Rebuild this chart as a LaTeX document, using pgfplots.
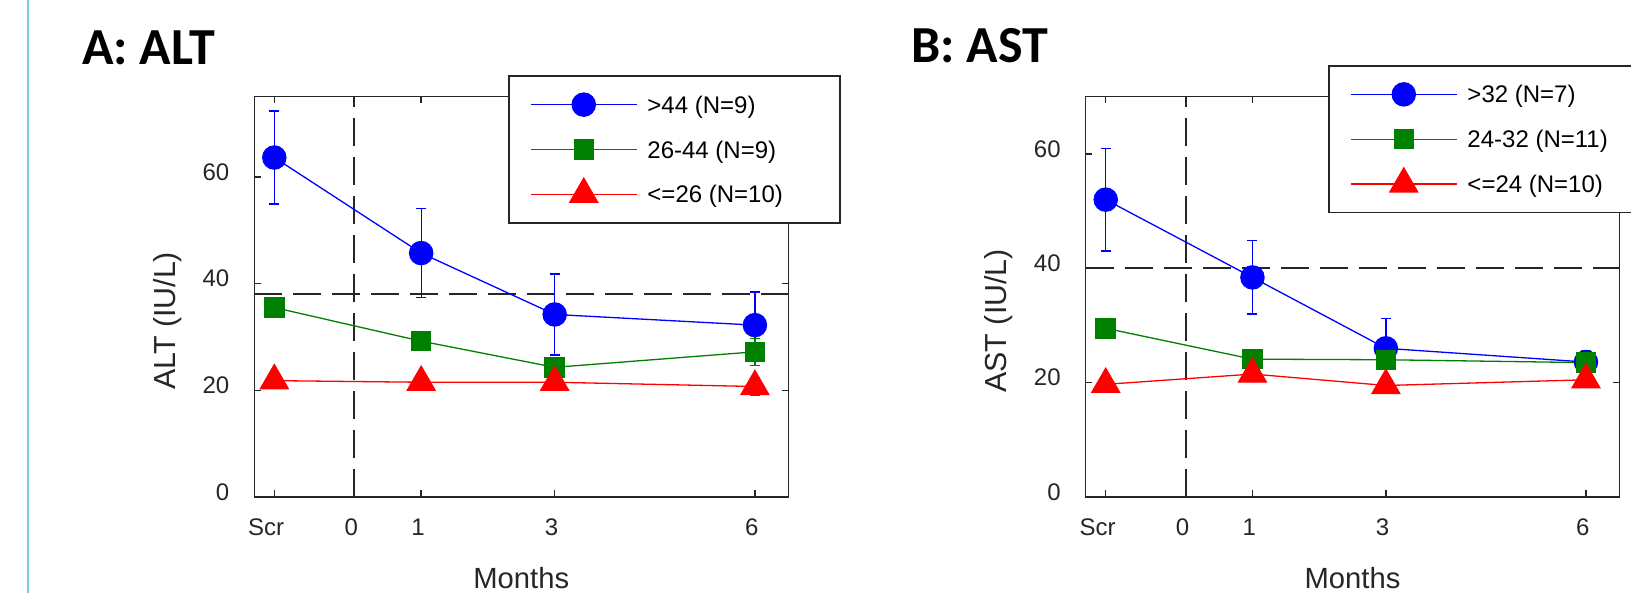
\documentclass[border=0pt]{standalone}
\usepackage{fontspec}
\setmainfont{Liberation Sans}
\newfontfamily\titlefont{Carlito}
\usepackage{pgfplots}
\pgfplotsset{compat=1.18}
\usepackage{pgfplotstable}

\definecolor{axgray}{RGB}{38,38,38}
\definecolor{mblue}{RGB}{0,0,255}
\definecolor{mgreen}{RGB}{0,128,0}
\definecolor{mred}{RGB}{255,0,0}
\definecolor{sideblue}{RGB}{125,200,240}

% ALT groups: month (Scr plotted at -1.2), mean, error
\pgfplotstableread{
x y e
-1.2 63.6 8.7
1 45.7 8.3
3 34.2 7.6
6 32.2 6.2
}\altHigh
\pgfplotstableread{
x y e
-1.2 35.5 1.0
1 29.2 1.2
3 24.3 1.6
6 27.2 2.5
}\altMid
\pgfplotstableread{
x y e
-1.2 21.8 0.8
1 21.5 0.8
3 21.5 0.9
6 20.7 1.6
}\altLow
% AST groups
\pgfplotstableread{
x y e
-1.2 52.0 9.0
1 38.4 6.4
3 26.0 5.2
6 23.6 1.5
}\astHigh
\pgfplotstableread{
x y e
-1.2 29.5 1.0
1 24.1 1.1
3 24.0 1.2
6 23.5 2.1
}\astMid
\pgfplotstableread{
x y e
-1.2 19.7 0.8
1 21.5 1.0
3 19.5 0.9
6 20.5 0.9
}\astLow

\pgfplotsset{
  panel/.style={
    scale only axis, width=267pt, height=200.15pt,
    xmin=-1.5, xmax=6.5, ymin=0,
    xtick={-1.2,0,1,3,6},
    xticklabels={\kern-5pt Scr,0,1,3,6},
    ytick={0,20,40,60},
    axis line style={axgray, line width=0.75pt},
    major tick style={axgray, line width=0.75pt},
    major tick length=3.3pt,
    tick label style={font=\fontsize{12}{14}\selectfont, text=axgray},
    /pgf/number format/assume math mode=true,
    xticklabel style={text height=8.6pt, text depth=0pt, yshift=-7.25pt, xshift=-1.6pt},
    yticklabel style={xshift=-9pt, yshift=2.5pt},
    xlabel={Months},
    xlabel style={at={(axis description cs:0.5,-0.228)}, anchor=base,
      font=\fontsize{14.6}{17}\selectfont, text=axgray},
    ylabel style={at={(axis description cs:-0.148,0.44)}, anchor=base,
      font=\fontsize{15.2}{18}\selectfont, text=axgray},
    legend style={anchor=north west, draw=axgray, line width=0.75pt, fill=white,
      font=\fontsize{12}{14}\selectfont, inner xsep=0pt, inner ysep=8.7pt,
      row sep=11.2pt, cells={anchor=west},
      nodes={inner sep=0pt, text height=8.6pt, text depth=0pt}},
    legend image code/.code={
      \draw[overlay, mark repeat=2, mark phase=2]
        plot coordinates {(0pt,0pt) (26.5pt,0pt) (53pt,0pt)};
      \path[draw=none, fill=none] (-10.85pt,-5.6pt) rectangle (58.35pt,5.6pt);
    },
  },
  ser/.style={#1, line width=0.65pt,
    error bars/y dir=both, error bars/y explicit,
    error bars/error bar style={line width=0.65pt, #1},
    error bars/error mark options={rotate=90, mark size=2.5pt, line width=0.65pt, #1}},
  refline/.style={forget plot, axgray, line width=1pt, dash pattern=on 14pt off 5.5pt},
}

\begin{document}
\begin{tikzpicture}
\path[use as bounding box] (0,0) rectangle (815.5pt,296.5pt);
\draw[sideblue, line width=1pt] (14.15pt,-1pt) -- (14.15pt,297.5pt);
\node[anchor=base west, inner sep=0pt, font=\titlefont\bfseries\fontsize{26}{30}\selectfont]
  at (40.85pt,264pt) {A: ALT};
\node[anchor=base west, inner sep=0pt, font=\titlefont\bfseries\fontsize{26}{30}\selectfont]
  at (455.6pt,265pt) {B: AST};

\begin{axis}[panel, at={(127.15pt,48pt)}, anchor=south west,
  ymax=75, ylabel={ALT (IU/L)},
  legend style={at={(axis description cs:0.4757,1.0535)}}]
\addplot[refline] coordinates {(0,0) (0,75)};
\addplot[refline] coordinates {(-1.5,38) (6.5,38)};
\addplot[ser=mblue, mark=*, mark size=5.8pt, mark options={solid, fill=mblue}]
  table[x=x, y=y, y error=e] {\altHigh};
\addlegendentry{\makebox[96.15pt][l]{>44 (N=9)}}
\addplot[ser=mgreen, mark=square*, mark size=4.8pt, mark options={solid, fill=mgreen}]
  table[x=x, y=y, y error=e] {\altMid};
\addlegendentry{\makebox[96.15pt][l]{26-44 (N=9)}}
\addplot[ser=mred, mark=triangle*, mark size=8pt, mark options={solid, fill=mred}]
  table[x=x, y=y, y error=e] {\altLow};
\addlegendentry{\makebox[96.15pt][l]{<=26 (N=10)}}
\end{axis}

\begin{axis}[panel, at={(542.85pt,48pt)}, anchor=south west, width=266.8pt,
  ymax=70, ylabel={AST (IU/L)},
  legend style={at={(axis description cs:0.4547,1.0792)}}]
\addplot[refline] coordinates {(0,0) (0,70)};
\addplot[refline] coordinates {(-1.5,40) (6.5,40)};
\addplot[ser=mblue, mark=*, mark size=5.8pt, mark options={solid, fill=mblue}]
  table[x=x, y=y, y error=e] {\astHigh};
\addlegendentry{\makebox[96.15pt][l]{>32 (N=7)}}
\addplot[ser=mgreen, mark=square*, mark size=4.8pt, mark options={solid, fill=mgreen}]
  table[x=x, y=y, y error=e] {\astMid};
\addlegendentry{\makebox[96.15pt][l]{24-32 (N=11)}}
\addplot[ser=mred, mark=triangle*, mark size=8pt, mark options={solid, fill=mred}]
  table[x=x, y=y, y error=e] {\astLow};
\addlegendentry{\makebox[96.15pt][l]{<=24 (N=10)}}
\end{axis}
\end{tikzpicture}
\end{document}
